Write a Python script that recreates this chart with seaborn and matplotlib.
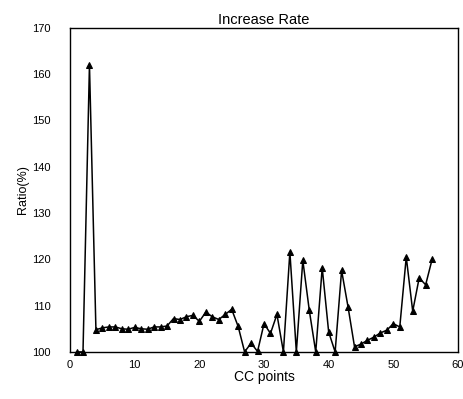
import matplotlib
matplotlib.use("Agg")
import matplotlib.pyplot as plt
import seaborn as sns
import pandas as pd

# --- Data ---
cc_points = list(range(1, 57))
ratio = [
    100.0, 100.0, 162.0, 104.8, 105.2, 105.4, 105.4, 105.0, 104.9, 105.3,
    105.0, 104.9, 105.4, 105.4, 105.6, 107.2, 107.0, 107.6, 107.9, 106.6,
    108.6, 107.6, 107.0, 108.1, 109.2, 105.5, 100.0, 101.9, 100.1, 106.1,
    104.0, 108.1, 100.0, 121.6, 100.0, 119.8, 109.0, 100.0, 118.2, 104.3,
    100.0, 117.6, 109.7, 101.1, 101.7, 102.5, 103.2, 104.1, 104.7, 106.1,
    105.4, 120.5, 108.8, 116.0, 114.5, 120.0,
]
df = pd.DataFrame({"CC points": cc_points, "Ratio": ratio})

sns.set_style("white")
plt.rcParams["font.family"] = ["Liberation Sans", "DejaVu Sans"]
plt.rcParams["text.color"] = "black"
plt.rcParams["axes.labelcolor"] = "black"

fig, ax = plt.subplots(figsize=(4.64, 3.99), dpi=100)
fig.subplots_adjust(left=0.151, right=0.987, top=0.93, bottom=0.118)

sns.lineplot(data=df, x="CC points", y="Ratio", ax=ax, color="black",
             marker="^", markersize=5, markeredgecolor="black",
             linewidth=1.1, clip_on=False)

ax.set_xlim(0, 60)
ax.set_ylim(100, 170)
ax.set_xticks(range(0, 61, 10))
ax.set_yticks(range(100, 171, 10))
ax.tick_params(direction="in", length=3, labelsize=8, colors="black")
ax.tick_params(axis="y", pad=14)
ax.tick_params(axis="x", pad=6)
for s in ax.spines.values():
    s.set_color("black")
    s.set_linewidth(1.0)

ax.set_title("Increase Rate", fontsize=10.5, pad=3, color="black")
ax.set_xlabel("CC points", fontsize=10, labelpad=0)
ax.set_ylabel("Ratio(%)", fontsize=9, labelpad=2)

plt.savefig("out.png", dpi=100)
plt.close()
